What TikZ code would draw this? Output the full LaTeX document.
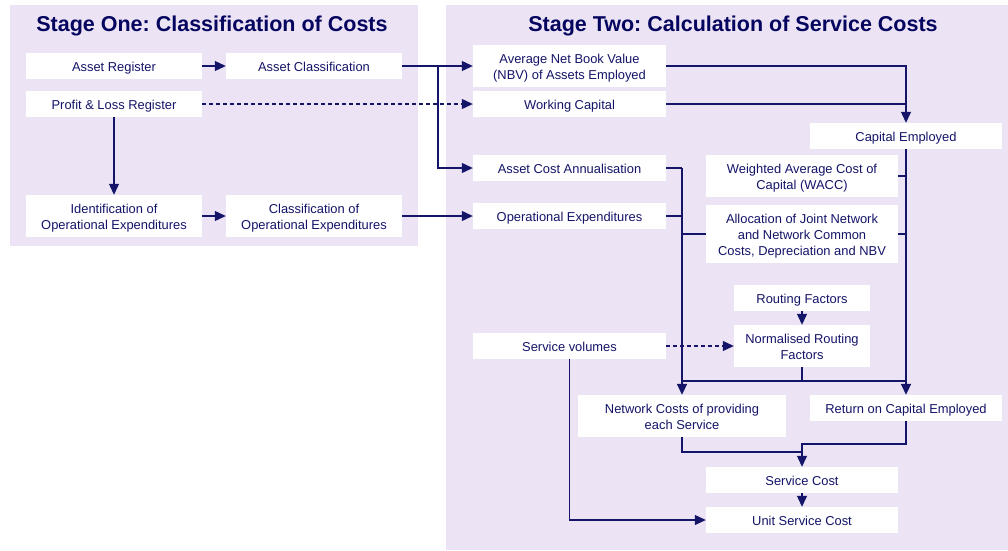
\documentclass[tikz,border=0pt]{standalone}
\usepackage{fontspec}
\setmainfont{Liberation Sans}
\usetikzlibrary{arrows.meta}
\frenchspacing
\definecolor{lav}{RGB}{236,228,245}
\definecolor{navy}{RGB}{20,20,105}
\definecolor{titlenavy}{RGB}{5,5,95}
\newcommand{\topstr}{\rule{0pt}{13.5pt}}
\newcommand{\botstr}{\rule[-2.8pt]{0pt}{0pt}}
\tikzset{
  box/.style={fill=white, inner sep=0pt, align=center, text=navy,
    font=\fontsize{12.9}{15.8}\selectfont},
  one/.style={box, execute at begin node={\topstr},
    execute at end node={\botstr}},
  ttl/.style={anchor=base, text=titlenavy, inner sep=0pt,
    font=\fontsize{21.5}{24}\selectfont\bfseries},
  conn/.style={draw=navy, line width=1.1pt},
  busln/.style={draw=navy, line width=1.8pt},
  arr/.style={conn, -{Triangle[length=11pt,width=10pt]}},
  busarr/.style={busln, -{Triangle[length=11pt,width=10pt]}},
  dashln/.style={dash pattern=on 4pt off 3pt}
}
\begin{document}
\begin{tikzpicture}[x=1pt,y=-1pt]
\useasboundingbox (0,0) rectangle (1008,550);
\fill[white] (0,0) rectangle (1008,550);
\fill[lav] (10,5) rectangle (418,246);
\fill[lav] (446,5) rectangle (1008,550);

\node[ttl] (t1) at (212,31.5) {Stage One: Classification of Costs};
\node[ttl] (t2) at (733,31.5) {Stage Two: Calculation of Service Costs};

% Stage one
\node[one, minimum width=176pt, minimum height=26pt] (ar) at (114,66) {Asset Register};
\node[one, minimum width=176pt, minimum height=26pt] (ac) at (314,66) {Asset Classification};
\node[one, minimum width=176pt, minimum height=26pt] (pl) at (114,104) {Profit \& Loss Register};
\node[box, minimum width=176pt, minimum height=42pt] (iope) at (114,216) {\topstr Identification of\\Operational Expenditures\botstr};
\node[box, minimum width=176pt, minimum height=42pt] (cope) at (314,216) {\topstr Classification of\\Operational Expenditures\botstr};

% Stage two
\node[box, minimum width=193pt, minimum height=42pt] (nbv) at (569.5,66) {\topstr Average Net Book Value\\(NBV) of Assets Employed\botstr};
\node[one, minimum width=193pt, minimum height=26pt] (wc) at (569.5,104) {Working Capital};
\node[one, minimum width=192pt, minimum height=26pt] (ce) at (906,136) {Capital Employed};
\node[one, minimum width=193pt, minimum height=26pt] (aca) at (569.5,168) {Asset Cost Annualisation};
\node[box, minimum width=192pt, minimum height=42pt] (wacc) at (802,176) {\topstr Weighted Average Cost of\\Capital (WACC)\botstr};
\node[one, minimum width=193pt, minimum height=26pt] (opex) at (569.5,216) {Operational Expenditures};
\node[box, minimum width=192pt, minimum height=58pt] (alloc) at (802,234) {\topstr Allocation of Joint Network\\and Network Common\\Costs, Depreciation and NBV\botstr};
\node[one, minimum width=136pt, minimum height=26pt] (rf) at (802,298) {Routing Factors};
\node[box, minimum width=136pt, minimum height=42pt] (nrf) at (802,346) {\topstr Normalised Routing\\Factors\botstr};
\node[one, minimum width=193pt, minimum height=26pt] (sv) at (569.5,346) {Service volumes};
\node[box, minimum width=208pt, minimum height=42pt] (ncs) at (682,416) {\topstr Network Costs of providing\\each Service\botstr};
\node[one, minimum width=192pt, minimum height=26pt] (roce) at (906,408) {Return on Capital Employed};
\node[one, minimum width=192pt, minimum height=26pt] (sc) at (802,480) {Service Cost};
\node[one, minimum width=192pt, minimum height=26pt] (usc) at (802,520) {Unit Service Cost};

\coordinate (j1) at (438,66);
\coordinate (bus) at (802,381);
\coordinate (m1) at (802,452);
\coordinate (m2) at (802,444);

% Stage one connectors
\draw[arr] (ar) -- (ac);
\draw[arr] (ac) -- (nbv);
\draw[arr] (j1) |- (aca);
\draw[arr, dashln] (pl) -- (wc);
\draw[arr] (pl) -- (iope);
\draw[arr] (iope) -- (cope);
\draw[arr] (cope) -- (opex);

% Capital employed
\draw[arr] (nbv.east) -| (ce.north);
\draw[conn] (wc.east) -- (wc.east -| ce.north);
\draw[busarr] (ce.south) -- (roce.north);
\draw[conn] (wacc.east) -- (wacc.east -| ce.south);
\draw[conn] (alloc.east) -- (alloc.east -| ce.south);

% Network costs
\draw[conn] (aca.east) -- (aca.east -| ncs.north);
\draw[busarr] (aca.east -| ncs.north) -- (ncs.north);
\draw[conn] (opex.east) -- (opex.east -| ncs.north);
\draw[conn] (alloc.west) -- (alloc.west -| ncs.north);

% Routing
\draw[arr] (rf) -- (nrf);
\draw[arr, dashln] (sv) -- (nrf);
\draw[conn] (nrf.south) -- (bus);
\draw[conn] (bus -| ncs.north) -- (bus -| roce.north);

% Service cost
\draw[conn] (ncs.south) |- (m1);
\draw[arr] (roce.south) |- (m2) -- (sc.north);
\draw[arr] (sc) -- (usc);
\draw[arr] (sv.south) |- (usc.west);
\end{tikzpicture}
\end{document}
